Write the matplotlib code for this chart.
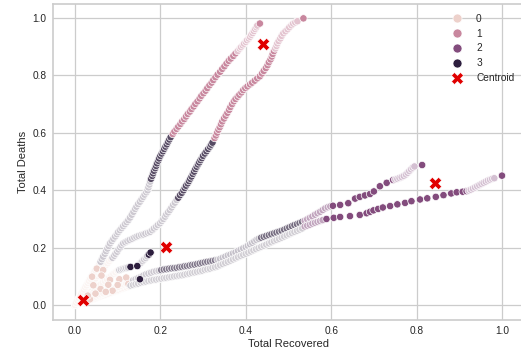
import pandas as pd
import matplotlib
matplotlib.use("Agg")
import matplotlib.pyplot as plt
from matplotlib.lines import Line2D
import seaborn as sns

# (Total Recovered, Total Deaths), four long tracks + one short one

# early days, cluster 0
p_early = [(0.000, 0.000), (0.003, 0.008), (0.006, 0.016), (0.009, 0.024), (0.012, 0.031),
           (0.015, 0.039), (0.018, 0.046), (0.021, 0.054), (0.024, 0.062), (0.027, 0.069),
           (0.030, 0.077), (0.033, 0.084), (0.036, 0.092), (0.039, 0.099), (0.042, 0.107),
           (0.045, 0.114), (0.048, 0.121), (0.051, 0.128), (0.054, 0.135), (0.057, 0.142)]
q_early = [(0.000, 0.000), (0.004, 0.008), (0.008, 0.016), (0.012, 0.024), (0.016, 0.031),
           (0.020, 0.039), (0.024, 0.047), (0.028, 0.055), (0.032, 0.062), (0.036, 0.070),
           (0.040, 0.078), (0.044, 0.086), (0.048, 0.093), (0.052, 0.101), (0.056, 0.109),
           (0.060, 0.116), (0.064, 0.124), (0.068, 0.131), (0.072, 0.139), (0.076, 0.146),
           (0.080, 0.153), (0.084, 0.160)]
t_early = [(0.000, 0.000), (0.005, 0.006), (0.010, 0.012), (0.015, 0.018), (0.020, 0.024),
           (0.025, 0.030), (0.030, 0.036), (0.035, 0.042), (0.040, 0.048), (0.045, 0.054),
           (0.050, 0.060), (0.055, 0.066), (0.060, 0.072), (0.065, 0.078), (0.070, 0.084),
           (0.075, 0.090), (0.080, 0.096), (0.085, 0.102), (0.090, 0.108), (0.095, 0.114),
           (0.100, 0.120)]
r_early = [(0.000, 0.000), (0.006, 0.004), (0.012, 0.008), (0.018, 0.011), (0.024, 0.015),
           (0.030, 0.019), (0.036, 0.023), (0.042, 0.026), (0.048, 0.030), (0.054, 0.034),
           (0.060, 0.038), (0.066, 0.041), (0.072, 0.045), (0.078, 0.049), (0.084, 0.053),
           (0.090, 0.057), (0.096, 0.060), (0.102, 0.064), (0.108, 0.068), (0.114, 0.072),
           (0.120, 0.075), (0.126, 0.079), (0.132, 0.083)]
s_early = [(0.000, 0.000), (0.006, 0.003), (0.012, 0.006), (0.018, 0.009), (0.024, 0.012),
           (0.030, 0.015), (0.036, 0.018), (0.042, 0.021), (0.048, 0.024), (0.054, 0.028),
           (0.060, 0.031), (0.066, 0.034), (0.072, 0.037), (0.078, 0.040), (0.084, 0.043),
           (0.090, 0.046), (0.096, 0.049), (0.102, 0.052), (0.108, 0.056), (0.114, 0.059),
           (0.120, 0.062), (0.126, 0.065)]
peach_dots = [(0.051, 0.127), (0.066, 0.122), (0.040, 0.099), (0.062, 0.103), (0.043, 0.069),
              (0.060, 0.056), (0.082, 0.088), (0.104, 0.090), (0.120, 0.096), (0.125, 0.074),
              (0.100, 0.070), (0.078, 0.071), (0.088, 0.050), (0.072, 0.046), (0.048, 0.040),
              (0.035, 0.020), (0.030, 0.033)]

# middle stretch, cluster 3
p_gray = [(0.060, 0.151), (0.063, 0.160), (0.066, 0.169), (0.070, 0.179), (0.073, 0.188),
          (0.076, 0.197), (0.079, 0.206), (0.082, 0.215), (0.086, 0.223), (0.090, 0.231),
          (0.094, 0.239), (0.098, 0.247), (0.101, 0.254), (0.105, 0.261), (0.109, 0.268),
          (0.113, 0.275), (0.117, 0.282), (0.121, 0.289), (0.125, 0.296), (0.129, 0.305),
          (0.133, 0.315), (0.137, 0.325), (0.141, 0.335), (0.144, 0.343), (0.148, 0.352),
          (0.152, 0.360), (0.156, 0.369), (0.160, 0.377), (0.163, 0.385), (0.167, 0.393),
          (0.170, 0.400), (0.172, 0.410), (0.174, 0.420), (0.176, 0.430)]
p_dark = [(0.178, 0.440), (0.181, 0.450), (0.183, 0.459), (0.185, 0.468), (0.188, 0.477),
          (0.190, 0.485), (0.192, 0.494), (0.195, 0.503), (0.197, 0.511), (0.200, 0.520),
          (0.203, 0.528), (0.206, 0.536), (0.209, 0.544), (0.212, 0.552), (0.215, 0.560),
          (0.218, 0.569), (0.221, 0.577), (0.224, 0.585)]
q_gray = [(0.088, 0.165), (0.092, 0.172), (0.095, 0.179), (0.099, 0.186), (0.102, 0.194),
          (0.106, 0.201), (0.109, 0.208), (0.113, 0.215), (0.118, 0.219), (0.123, 0.223),
          (0.128, 0.227), (0.134, 0.231), (0.139, 0.235), (0.144, 0.238), (0.149, 0.241),
          (0.155, 0.244), (0.160, 0.246), (0.165, 0.249), (0.171, 0.252), (0.176, 0.255),
          (0.181, 0.261), (0.185, 0.267), (0.190, 0.273), (0.194, 0.279), (0.199, 0.285),
          (0.203, 0.293), (0.207, 0.300), (0.211, 0.308), (0.214, 0.316), (0.218, 0.323),
          (0.222, 0.331), (0.226, 0.340), (0.230, 0.349), (0.234, 0.357), (0.238, 0.366)]
q_dark = [(0.242, 0.374), (0.246, 0.383), (0.250, 0.391), (0.254, 0.400), (0.257, 0.408),
          (0.260, 0.416), (0.264, 0.424), (0.267, 0.432), (0.270, 0.440), (0.273, 0.448),
          (0.276, 0.457), (0.279, 0.465), (0.282, 0.474), (0.285, 0.482), (0.288, 0.490),
          (0.291, 0.497), (0.294, 0.505), (0.297, 0.512), (0.300, 0.520), (0.304, 0.528),
          (0.308, 0.536), (0.312, 0.544), (0.316, 0.552), (0.319, 0.559), (0.322, 0.566)]
t_gray = [(0.104, 0.122), (0.108, 0.124), (0.112, 0.126), (0.116, 0.128), (0.120, 0.129),
          (0.124, 0.131), (0.150, 0.141), (0.154, 0.147), (0.158, 0.153), (0.162, 0.159),
          (0.166, 0.164), (0.169, 0.170)]
r_gray1 = [(0.136, 0.086), (0.142, 0.090), (0.148, 0.094), (0.154, 0.098), (0.160, 0.103),
           (0.166, 0.107), (0.172, 0.110), (0.178, 0.113), (0.184, 0.116), (0.190, 0.118),
           (0.196, 0.120)]
r_dark1 = [(0.202, 0.122), (0.208, 0.124), (0.214, 0.125), (0.220, 0.127), (0.226, 0.128),
           (0.232, 0.129), (0.238, 0.130), (0.244, 0.132), (0.250, 0.133), (0.256, 0.135),
           (0.262, 0.136), (0.268, 0.138), (0.274, 0.140), (0.280, 0.141), (0.286, 0.143),
           (0.292, 0.145), (0.298, 0.147), (0.304, 0.149), (0.310, 0.151), (0.316, 0.152),
           (0.322, 0.154), (0.328, 0.156)]
r_gray2 = [(0.334, 0.158), (0.340, 0.161), (0.346, 0.165), (0.352, 0.169), (0.358, 0.173),
           (0.364, 0.176), (0.370, 0.180), (0.376, 0.184), (0.382, 0.189), (0.388, 0.193),
           (0.394, 0.198), (0.400, 0.202), (0.405, 0.207), (0.410, 0.212), (0.415, 0.217),
           (0.420, 0.222), (0.425, 0.227), (0.430, 0.231)]
r_dark2 = [(0.436, 0.235), (0.442, 0.238), (0.448, 0.241), (0.454, 0.244), (0.460, 0.247),
           (0.466, 0.250), (0.472, 0.253), (0.478, 0.256), (0.484, 0.259), (0.490, 0.263),
           (0.496, 0.267), (0.502, 0.271), (0.508, 0.275), (0.514, 0.279), (0.520, 0.282),
           (0.526, 0.286), (0.532, 0.290)]
s_gray = [(0.130, 0.068), (0.136, 0.070), (0.142, 0.073), (0.148, 0.075), (0.154, 0.078),
          (0.160, 0.080), (0.166, 0.082), (0.172, 0.084), (0.178, 0.086), (0.184, 0.088),
          (0.190, 0.089), (0.196, 0.091), (0.202, 0.092), (0.208, 0.094), (0.214, 0.095),
          (0.220, 0.097), (0.226, 0.098), (0.232, 0.100), (0.238, 0.101), (0.244, 0.103),
          (0.250, 0.104), (0.256, 0.106), (0.262, 0.108), (0.268, 0.110), (0.274, 0.112),
          (0.280, 0.114), (0.286, 0.116), (0.292, 0.118), (0.298, 0.120), (0.304, 0.123),
          (0.310, 0.125), (0.316, 0.127), (0.322, 0.130), (0.328, 0.132), (0.334, 0.135),
          (0.340, 0.139), (0.346, 0.143), (0.352, 0.147), (0.358, 0.151), (0.364, 0.155),
          (0.370, 0.159), (0.376, 0.163), (0.382, 0.167), (0.388, 0.171), (0.394, 0.175),
          (0.400, 0.179), (0.406, 0.183), (0.412, 0.187), (0.418, 0.191), (0.424, 0.195),
          (0.430, 0.199), (0.436, 0.203), (0.442, 0.207), (0.448, 0.211), (0.454, 0.215),
          (0.460, 0.219), (0.466, 0.223), (0.472, 0.227), (0.478, 0.231), (0.484, 0.235),
          (0.490, 0.239), (0.496, 0.243), (0.502, 0.247), (0.508, 0.251), (0.514, 0.255),
          (0.520, 0.259), (0.526, 0.263), (0.532, 0.267)]
dark_dots = [(0.152, 0.090), (0.130, 0.133), (0.146, 0.136), (0.173, 0.176), (0.177, 0.183)]

# late stretch: cluster 1 (upper tracks) and cluster 2 (right tracks)
p_pink = [(0.229, 0.596), (0.233, 0.605), (0.238, 0.614), (0.242, 0.622), (0.247, 0.631),
          (0.251, 0.640), (0.256, 0.648), (0.260, 0.657), (0.264, 0.666), (0.269, 0.674),
          (0.273, 0.683), (0.278, 0.692), (0.282, 0.701), (0.287, 0.710), (0.292, 0.720),
          (0.296, 0.729), (0.301, 0.738), (0.306, 0.747), (0.310, 0.756), (0.315, 0.766),
          (0.320, 0.775), (0.324, 0.784), (0.329, 0.794), (0.334, 0.803), (0.340, 0.813),
          (0.345, 0.823), (0.350, 0.832), (0.355, 0.842), (0.360, 0.851), (0.365, 0.859),
          (0.371, 0.868), (0.376, 0.877)]
p_pink_tail = [(0.381, 0.885), (0.386, 0.894), (0.389, 0.899), (0.393, 0.905), (0.396, 0.911),
               (0.400, 0.917), (0.403, 0.923), (0.407, 0.929), (0.410, 0.935), (0.413, 0.942),
               (0.416, 0.948), (0.419, 0.955), (0.422, 0.962), (0.425, 0.968), (0.427, 0.974)]
p_last = [(0.433, 0.981)]
q_pink = [(0.327, 0.582), (0.330, 0.591), (0.333, 0.601), (0.336, 0.611), (0.339, 0.620),
          (0.342, 0.630), (0.345, 0.640), (0.349, 0.650), (0.353, 0.660), (0.357, 0.670),
          (0.361, 0.680), (0.364, 0.690), (0.368, 0.700), (0.372, 0.710), (0.376, 0.718),
          (0.381, 0.726), (0.385, 0.733), (0.390, 0.741), (0.394, 0.749), (0.399, 0.756),
          (0.404, 0.762), (0.410, 0.769), (0.415, 0.775), (0.421, 0.782), (0.427, 0.790),
          (0.433, 0.797), (0.438, 0.807), (0.442, 0.816), (0.447, 0.826), (0.451, 0.836),
          (0.454, 0.846), (0.458, 0.856), (0.461, 0.866), (0.463, 0.875), (0.466, 0.885)]
q_pink_tail = [(0.469, 0.894), (0.472, 0.903), (0.474, 0.912), (0.477, 0.920), (0.481, 0.929),
               (0.484, 0.938), (0.488, 0.947), (0.493, 0.954), (0.498, 0.961), (0.502, 0.968),
               (0.507, 0.975), (0.511, 0.981), (0.516, 0.985), (0.521, 0.989)]
q_last = [(0.535, 0.999)]
r_purple_head = [(0.538, 0.294), (0.544, 0.299), (0.550, 0.304), (0.556, 0.309), (0.562, 0.315),
                 (0.568, 0.320), (0.574, 0.325), (0.580, 0.331), (0.586, 0.337), (0.592, 0.341),
                 (0.598, 0.344)]
r_purple = [(0.604, 0.346), (0.621, 0.349), (0.640, 0.355), (0.656, 0.371), (0.667, 0.377),
            (0.679, 0.382), (0.691, 0.387), (0.700, 0.396), (0.714, 0.414), (0.730, 0.426),
            (0.745, 0.436)]
r_purple_tail = [(0.750, 0.438), (0.755, 0.440), (0.760, 0.443), (0.765, 0.446), (0.770, 0.450),
                 (0.775, 0.455), (0.779, 0.461), (0.783, 0.467), (0.787, 0.473), (0.791, 0.479),
                 (0.795, 0.483)]
r_last = [(0.813, 0.488)]
s_purple_head = [(0.538, 0.274), (0.544, 0.277), (0.550, 0.280), (0.556, 0.284), (0.562, 0.287),
                 (0.568, 0.290), (0.574, 0.293), (0.580, 0.296)]
s_purple = [(0.589, 0.300), (0.606, 0.304), (0.621, 0.307), (0.644, 0.310), (0.667, 0.314),
            (0.683, 0.320), (0.691, 0.325), (0.699, 0.330), (0.710, 0.335), (0.721, 0.340),
            (0.738, 0.345), (0.755, 0.351), (0.773, 0.356), (0.788, 0.362), (0.808, 0.368),
            (0.825, 0.372), (0.845, 0.377), (0.863, 0.383), (0.881, 0.389), (0.894, 0.393),
            (0.908, 0.395), (0.917, 0.397)]
s_purple_tail = [(0.922, 0.399), (0.927, 0.402), (0.932, 0.406), (0.937, 0.410), (0.942, 0.414),
                 (0.947, 0.418), (0.952, 0.422), (0.957, 0.426), (0.962, 0.430), (0.967, 0.434),
                 (0.972, 0.437), (0.977, 0.440), (0.982, 0.442)]
s_last = [(1.000, 0.451)]

centroid_x = [0.019, 0.213, 0.441, 0.843]
centroid_y = [0.018, 0.201, 0.908, 0.427]

cluster_labels = ['0', '1', '2', '3']

# (points, cluster, how washed-out the packed points look) -- order = drawing order
segments = [
    (s_early, 0, 0.75), (r_early, 0, 0.75), (t_early, 0, 0.75), (q_early, 0, 0.75), (p_early, 0, 0.75),
    (peach_dots, 0, 0.0),
    (p_gray, 3, 0.76), (p_dark, 3, 0.2), (q_gray, 3, 0.76), (q_dark, 3, 0.2),
    (t_gray, 3, 0.76), (r_gray1, 3, 0.76), (r_dark1, 3, 0.4), (r_gray2, 3, 0.72),
    (r_dark2, 3, 0.35), (s_gray, 3, 0.78),
    (p_pink, 1, 0.0), (p_pink_tail, 1, 0.5), (p_last, 1, 0.0),
    (q_pink, 1, 0.0), (q_pink_tail, 1, 0.5), (q_last, 1, 0.0),
    (r_purple_head, 2, 0.5), (r_purple, 2, 0.0), (r_purple_tail, 2, 0.65), (r_last, 2, 0.0),
    (s_purple_head, 2, 0.5), (s_purple, 2, 0.0), (s_purple_tail, 2, 0.65), (s_last, 2, 0.0),
    (dark_dots, 3, 0.0),
]

rows = []
for pts, k, fade in segments:
    for x, y in pts:
        rows.append((x, y, k, fade))
df = pd.DataFrame(rows, columns=['Total Recovered', 'Total Deaths', 'cluster', 'fade'])

sns.set_theme(style='whitegrid')
plt.rcParams['font.family'] = ['Liberation Sans', 'DejaVu Sans']

cmap = sns.cubehelix_palette(as_cmap=True)


def washed(k, f):
    r, g, b, _ = cmap(k / 3)
    return (r + (1 - r) * f, g + (1 - g) * f, b + (1 - b) * f)


colors = [washed(k, f) for k, f in zip(df['cluster'], df['fade'])]

fig = plt.figure(figsize=(5.21, 3.52), dpi=100)
ax = fig.add_axes([0.1017, 0.0909, 0.904, 0.8977])

ax.scatter(df['Total Recovered'], df['Total Deaths'], c=colors, s=28,
           edgecolors='white', linewidths=0.5, zorder=2)
ax.scatter(centroid_x, centroid_y, marker='X', s=80, color='#e00000',
           edgecolors='white', linewidths=0.4, zorder=3)

ax.set_xlim(-0.0515, 1.0515)
ax.set_ylim(-0.052, 1.049)
ax.set_xticks([0.0, 0.2, 0.4, 0.6, 0.8, 1.0])
ax.set_yticks([0.0, 0.2, 0.4, 0.6, 0.8, 1.0])
ax.tick_params(labelsize=7.3, colors='.15', length=0, pad=4.5)
ax.set_xlabel('Total Recovered', fontsize=8, labelpad=2, color='.15')
ax.set_ylabel('Total Deaths', fontsize=8, labelpad=3, color='.15')
ax.grid(color='.8', linewidth=0.9)
for sp in ax.spines.values():
    sp.set_color('.8')
    sp.set_linewidth(1.2)

handles = [Line2D([], [], linestyle='', marker='o', markersize=6.5, markerfacecolor=cmap(i / 3),
                  markeredgecolor='white', markeredgewidth=0.5) for i in range(4)]
handles.append(Line2D([], [], linestyle='', marker='X', markersize=8,
                      markerfacecolor='#e00000', markeredgecolor='white', markeredgewidth=0.4))
ax.legend(handles, cluster_labels + ['Centroid'], loc='upper right', frameon=False,
          fontsize=7.3, labelspacing=0.48, handletextpad=0.9, borderaxespad=0.55)

fig.savefig('out.png', dpi=100)
